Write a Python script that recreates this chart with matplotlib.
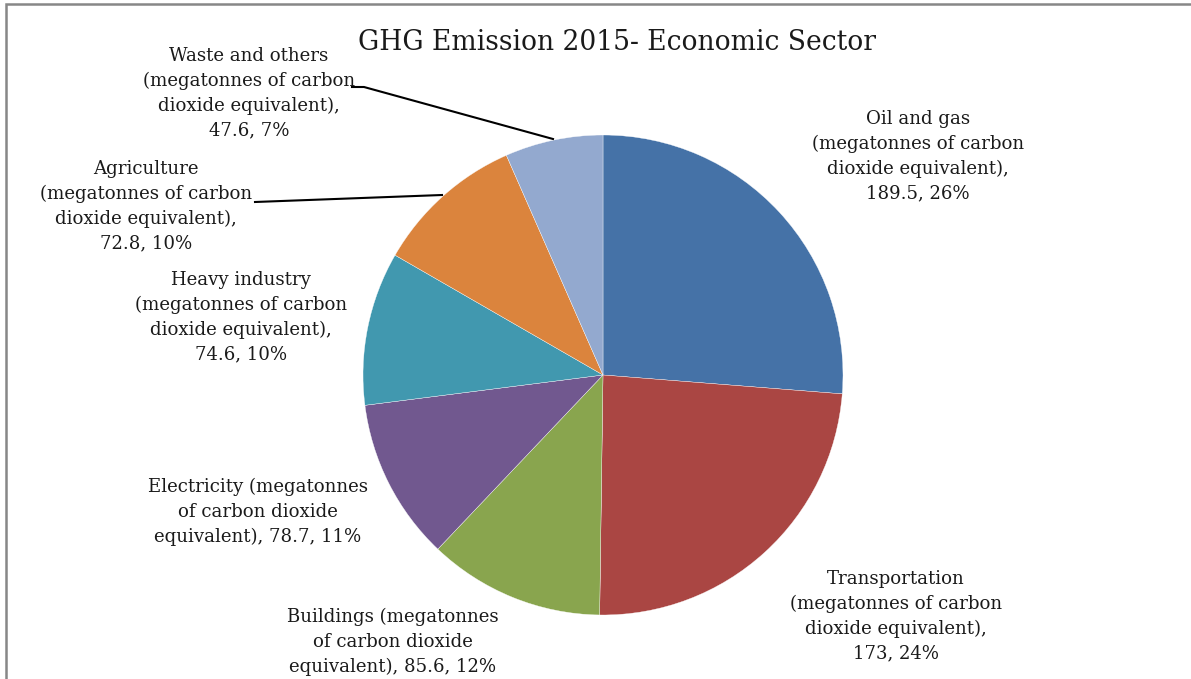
import matplotlib.pyplot as plt
from matplotlib.patches import Rectangle

W, H = 1191, 679

sectors = ["Oil and gas", "Transportation", "Buildings", "Electricity",
           "Heavy industry", "Agriculture", "Waste and others"]
emissions = [189.5, 173, 85.6, 78.7, 74.6, 72.8, 47.6]
colors = ["#4572A7", "#AA4643", "#89A54E", "#71588F", "#4198AF", "#DB843D", "#93A9CF"]

# label text wrapping, as lines
def make_label(name, val, pct):
    v = ("%g" % val)
    if name in ("Buildings", "Electricity"):
        return "%s (megatonnes\nof carbon dioxide\nequivalent), %s, %d%%" % (name, v, pct)
    return "%s\n(megatonnes of carbon\ndioxide equivalent),\n%s, %d%%" % (name, v, pct)

# label centres in pixels from top-left
label_pos = [(918, 156), (896, 616), (393, 642), (258, 512),
             (241, 317), (146, 206), (249, 93)]

fig = plt.figure(figsize=(W / 100, H / 100), dpi=100)
ax = fig.add_axes([0, 0, 1, 1])

def fy(y):
    return H - y

cx, cy, r = 603, 375, 240
ax.pie(emissions, colors=colors, startangle=90, counterclock=False,
       center=(cx, fy(cy)), radius=r, frame=True,
       wedgeprops=dict(edgecolor="white", linewidth=0.25))
ax.set_xlim(0, W)
ax.set_ylim(0, H)
ax.set_aspect("equal")
ax.axis("off")

total = sum(emissions)
for name, val, (lx, ly) in zip(sectors, emissions, label_pos):
    pct = round(val / total * 100)
    ax.text(lx, fy(ly), make_label(name, val, pct), ha="center", va="center",
            fontsize=13.1, family="DejaVu Serif", linespacing=1.47, color="#1a1a1a")

# leader lines
ax.plot([352, 364, 553], [fy(87), fy(87), fy(139)], color="black", lw=1.5)
ax.plot([255, 442], [fy(202), fy(195)], color="black", lw=1.5)

ax.text(617, fy(42), "GHG Emission 2015- Economic Sector", ha="center", va="center",
        fontsize=19.1, family="DejaVu Serif", color="#1a1a1a")

# chart frame
ax.add_patch(Rectangle((6, fy(800)), 1400, 796, fill=False, edgecolor="#878787",
                       lw=1.8, clip_on=True))

fig.savefig("out.png", dpi=100)
